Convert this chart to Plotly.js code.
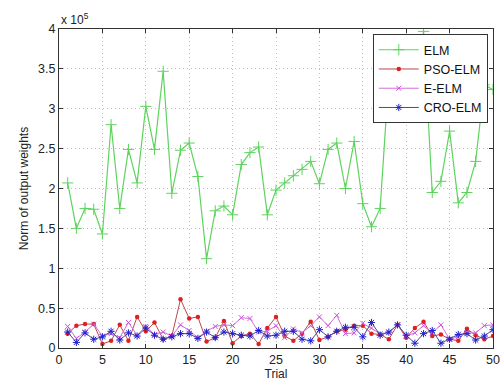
<!DOCTYPE html>
<html>
<head>
<meta charset="utf-8">
<script src="https://cdn.plot.ly/plotly-3.0.1.min.js"></script>
<style>html,body{margin:0;padding:0;background:#fff;}#chart{width:502px;height:381px;}</style>
</head>
<body>
<div id="chart"></div>
<script>
var trials = [];
for (var i = 1; i <= 50; i++) trials.push(i);

var elm = [2.07,1.50,1.75,1.74,1.43,2.80,1.75,2.49,2.07,3.03,
           2.49,3.47,1.94,2.48,2.57,2.15,1.12,1.72,1.78,1.67,
           2.30,2.45,2.52,1.67,1.98,2.07,2.16,2.24,2.34,2.06,
           2.49,2.57,2.00,2.59,1.81,1.52,1.75,3.40,3.30,3.60,
           3.20,3.97,1.95,2.09,2.72,1.82,1.95,2.34,3.30,3.24];
var psoElm = [0.18,0.28,0.30,0.30,0.05,0.09,0.29,0.09,0.39,0.21,
              0.32,0.11,0.15,0.61,0.37,0.39,0.08,0.13,0.34,0.06,
              0.15,0.18,0.05,0.25,0.39,0.15,0.09,0.18,0.33,0.10,
              0.14,0.21,0.23,0.28,0.28,0.18,0.17,0.11,0.29,0.13,
              0.25,0.33,0.15,0.17,0.11,0.09,0.24,0.16,0.11,0.15];
var eElm = [0.27,0.12,0.20,0.30,0.15,0.18,0.13,0.32,0.16,0.27,
            0.17,0.20,0.15,0.29,0.22,0.13,0.21,0.27,0.29,0.28,
            0.38,0.37,0.20,0.21,0.28,0.13,0.24,0.19,0.28,0.39,
            0.28,0.41,0.18,0.19,0.31,0.25,0.18,0.19,0.29,0.15,
            0.19,0.28,0.19,0.29,0.11,0.14,0.19,0.19,0.28,0.29];
var croElm = [0.20,0.07,0.19,0.11,0.14,0.21,0.10,0.19,0.15,0.25,
              0.16,0.11,0.14,0.18,0.18,0.12,0.20,0.13,0.20,0.18,
              0.16,0.15,0.22,0.15,0.16,0.21,0.21,0.11,0.09,0.23,
              0.14,0.21,0.26,0.26,0.14,0.32,0.16,0.20,0.29,0.16,
              0.06,0.18,0.22,0.06,0.11,0.17,0.18,0.10,0.15,0.23];
var xTicks = [0,5,10,15,20,25,30,35,40,45,50];
var yTicks = [0,0.5,1,1.5,2,2.5,3,3.5,4];

var traces = [
  {x: trials, y: elm, name: 'ELM', mode: 'lines+markers',
   line: {color: '#5ed35e', width: 1.2},
   marker: {symbol: 'cross-thin-open', size: 8, color: '#5ed35e', line: {color: '#5ed35e', width: 1}}},
  {x: trials, y: psoElm, name: 'PSO-ELM', mode: 'lines+markers',
   line: {color: '#b54a4a', width: 1},
   marker: {symbol: 'circle', size: 4.5, color: '#e02020'}},
  {x: trials, y: eElm, name: 'E-ELM', mode: 'lines+markers',
   line: {color: '#d070d8', width: 1},
   marker: {symbol: 'x-thin-open', size: 5, color: '#d050e0', line: {color: '#d050e0', width: 1}}},
  {x: trials, y: croElm, name: 'CRO-ELM', mode: 'lines+markers',
   line: {color: '#4b4b8f', width: 1},
   marker: {symbol: 'asterisk-open', size: 6, color: '#2020d0', line: {color: '#2020d0', width: 1}}}
];

var axisCommon = {
  showline: true, mirror: 'ticks', linecolor: '#333', linewidth: 1,
  ticks: 'inside', ticklen: 4, tickcolor: '#333',
  showgrid: true, gridcolor: '#bdbdbd', griddash: '1px,3px', gridwidth: 1,
  zeroline: false,
  tickfont: {family: 'Liberation Sans, Arial, sans-serif', size: 12.5, color: '#222'}
};

var layout = {
  width: 502, height: 381,
  margin: {l: 59, r: 9, t: 29, b: 33},
  paper_bgcolor: '#fff', plot_bgcolor: '#fff',
  showlegend: true,
  xaxis: Object.assign({}, axisCommon, {
    range: [0, 50], tickvals: xTicks, ticktext: xTicks.map(String),
    title: {text: 'Trial', standoff: 2, font: {family: 'Liberation Sans, Arial, sans-serif', size: 12, color: '#222'}}
  }),
  yaxis: Object.assign({}, axisCommon, {
    range: [0, 4], tickvals: yTicks, ticktext: yTicks.map(String),
    title: {text: 'Norm of output weights', standoff: 6, font: {family: 'Liberation Sans, Arial, sans-serif', size: 12, color: '#222'}}
  }),
  legend: {
    x: 0.988, xanchor: 'right', y: 0.984, yanchor: 'top',
    bgcolor: '#fff', bordercolor: '#333', borderwidth: 1,
    font: {family: 'Liberation Sans, Arial, sans-serif', size: 12.5, color: '#111'},
    tracegroupgap: 0, itemwidth: 40
  },
  annotations: [{
    xref: 'paper', yref: 'paper', x: 0, y: 1, xanchor: 'left', yanchor: 'bottom',
    text: 'x 10<sup>5</sup>', showarrow: false, yshift: 0,
    font: {family: 'Liberation Sans, Arial, sans-serif', size: 12, color: '#222'}
  }]
};

Plotly.newPlot('chart', traces, layout, {staticPlot: true, displayModeBar: false});
</script>
</body>
</html>
